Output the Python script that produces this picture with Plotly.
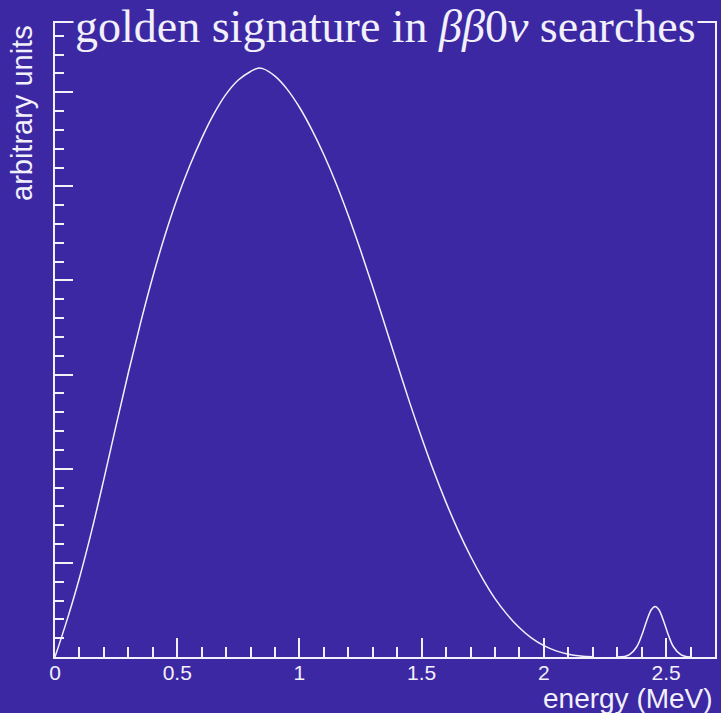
import plotly.graph_objects as go

# ---- data (energy in MeV, arbitrary units: 1 unit = one major y tick) ----
energy_2nu = [0.00, 0.05, 0.10, 0.15, 0.20, 0.25, 0.30, 0.35, 0.40, 0.45, 0.50,
              0.55, 0.60, 0.65, 0.70, 0.75, 0.80, 0.83, 0.85, 0.90, 0.95, 1.00,
              1.05, 1.10, 1.15, 1.20, 1.25, 1.30, 1.35, 1.40, 1.45, 1.50, 1.55,
              1.60, 1.65, 1.70, 1.75, 1.80, 1.85, 1.90, 1.95, 2.00, 2.05, 2.10,
              2.15, 2.20]
counts_2nu = [0.00, 0.40, 0.84, 1.34, 1.89, 2.46, 3.02, 3.55, 4.04, 4.48, 4.87,
              5.21, 5.51, 5.77, 5.98, 6.13, 6.22, 6.255, 6.25, 6.17, 6.03, 5.84,
              5.605, 5.335, 5.03, 4.69, 4.32, 3.93, 3.525, 3.115, 2.71, 2.33, 1.97,
              1.64, 1.34, 1.07, 0.83, 0.62, 0.45, 0.31, 0.20, 0.12, 0.065, 0.03,
              0.011, 0.003]

energy_0nu = [2.300, 2.330, 2.350, 2.380, 2.400, 2.420, 2.440, 2.455, 2.470, 2.490,
              2.510, 2.530, 2.560, 2.580, 2.600]
counts_0nu = [0.001, 0.006, 0.024, 0.109, 0.228, 0.380, 0.504, 0.537, 0.504, 0.380,
              0.228, 0.109, 0.024, 0.006, 0.001]

x_range = [0, 2.7]
y_range = [0, 6.735]
x_tick_vals = [0, 0.5, 1, 1.5, 2, 2.5]
x_tick_text = ["0", "0.5", "1", "1.5", "2", "2.5"]

title_text = "golden signature in <i>ββ</i>0<i>ν</i> searches"
x_title = "energy (MeV)"
y_title = "arbitrary units"

BG = "#3c28a3"
FG = "#f2f0fa"

fig = go.Figure()
fig.add_trace(go.Scatter(x=energy_2nu, y=counts_2nu, mode="lines",
                         line=dict(color=FG, width=1.5, shape="spline", smoothing=1.0),
                         hoverinfo="skip"))
fig.add_trace(go.Scatter(x=energy_0nu, y=counts_0nu, mode="lines",
                         line=dict(color=FG, width=1.5, shape="spline", smoothing=1.0),
                         hoverinfo="skip"))

fig.update_layout(
    width=721, height=713,
    margin=dict(l=55, r=4, t=23, b=56),
    paper_bgcolor=BG, plot_bgcolor=BG,
    showlegend=False,
)

fig.update_xaxes(
    range=x_range, showgrid=False, zeroline=False,
    showline=True, linecolor=FG, linewidth=2, mirror=True,
    ticks="inside", ticklen=19, tickwidth=2, tickcolor=FG,
    tickvals=x_tick_vals, ticktext=x_tick_text,
    tickfont=dict(family="Liberation Sans, Arial, sans-serif", size=21, color=FG),
    ticklabelstandoff=-4,
    minor=dict(dtick=0.1, tick0=0, ticks="inside", ticklen=10, tickwidth=2, tickcolor=FG),
)
fig.update_yaxes(
    range=y_range, showgrid=False, zeroline=False,
    showline=True, linecolor=FG, linewidth=2, mirror=True,
    ticks="inside", ticklen=18, tickwidth=2, tickcolor=FG,
    dtick=1, tick0=0, showticklabels=False,
    minor=dict(dtick=0.2, tick0=0, ticks="inside", ticklen=9, tickwidth=2, tickcolor=FG),
)

fig.add_annotation(text=title_text, xref="paper", yref="paper", x=0.5, y=1,
                   xanchor="center", yanchor="middle", showarrow=False,
                   font=dict(family="Liberation Serif, Times New Roman, serif", size=46, color=FG),
                   bgcolor=BG, borderpad=1, yshift=-3)
fig.add_annotation(text=y_title, xref="paper", yref="paper", x=-0.05, y=1.0,
                   xanchor="center", yanchor="top", textangle=-90, showarrow=False,
                   font=dict(family="Liberation Sans, Arial, sans-serif", size=29, color=FG))
fig.add_annotation(text=x_title, xref="paper", yref="paper", x=1.0, y=-0.066,
                   xanchor="right", yanchor="middle", showarrow=False,
                   font=dict(family="Liberation Sans, Arial, sans-serif", size=28, color=FG))

fig.write_html("out.html")
